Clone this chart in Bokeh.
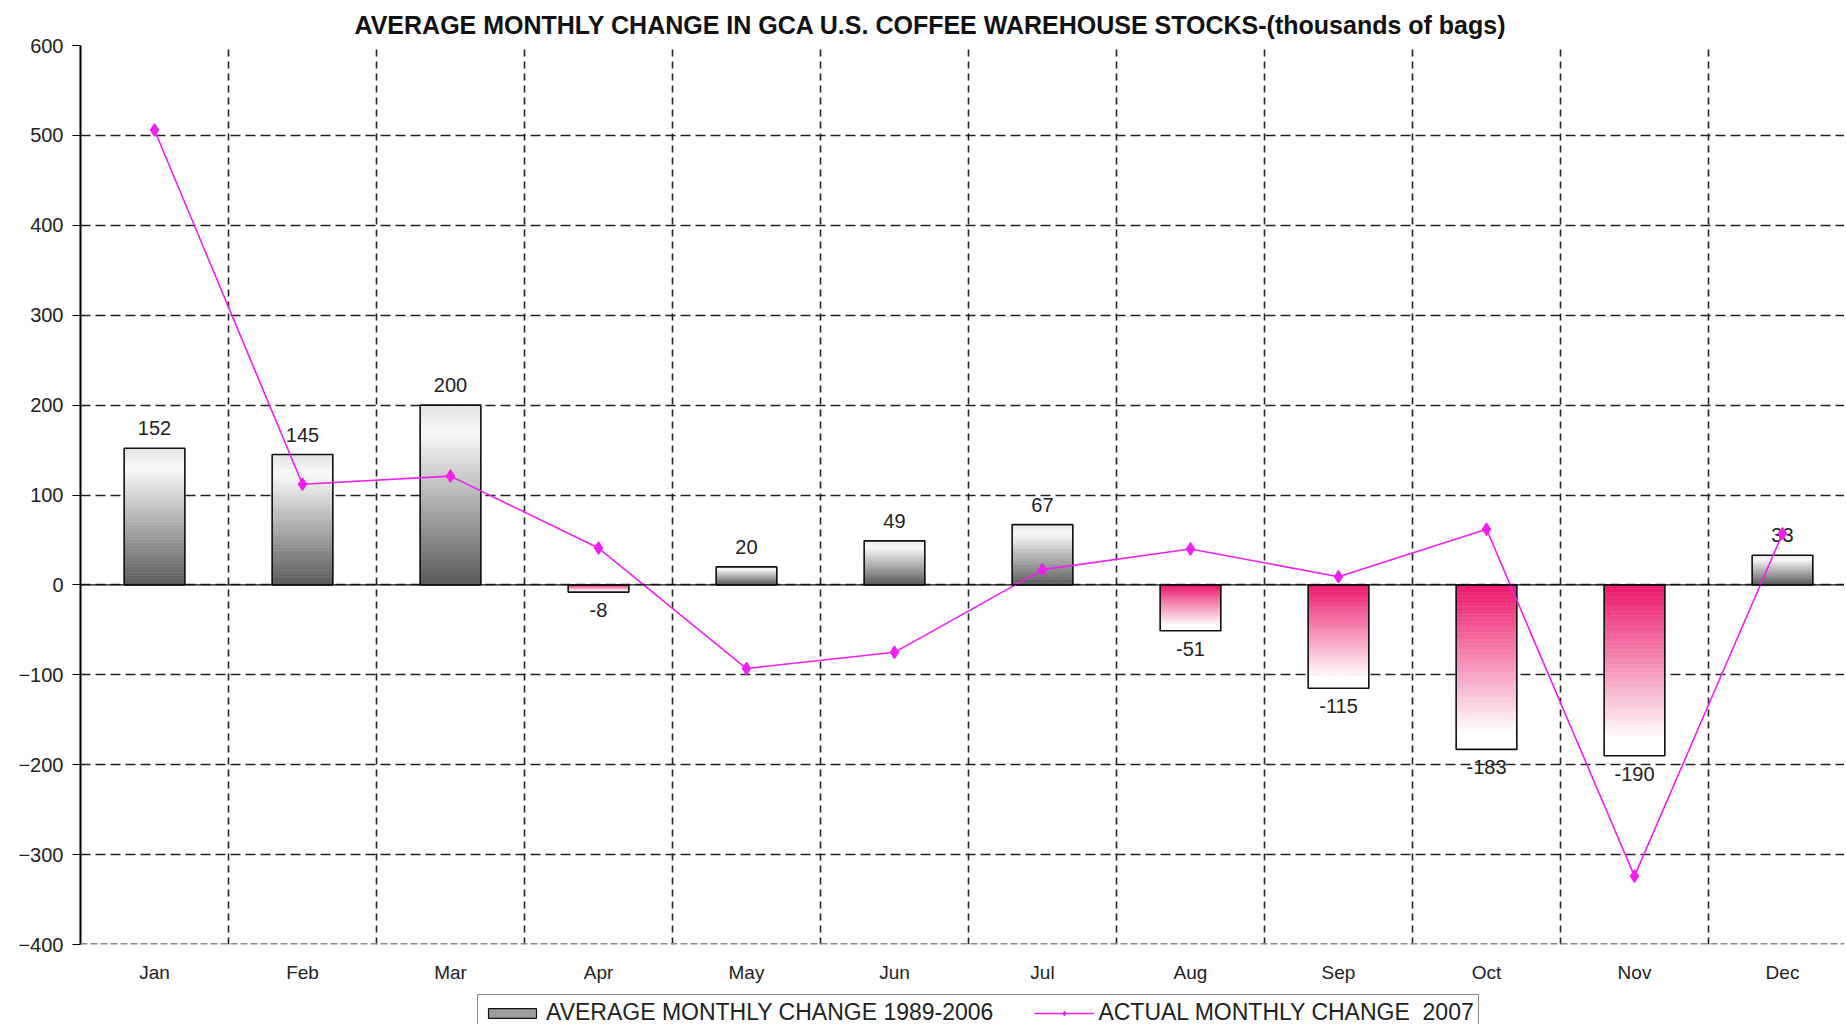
from bokeh.plotting import figure
from bokeh.layouts import column
from bokeh.models import (ColumnDataSource, FixedTicker, Span, Legend, LegendItem, Range1d)
from bokeh.core.properties import value
from bokeh.embed import file_html
from bokeh.resources import INLINE

# ---- data ----
months = ["Jan", "Feb", "Mar", "Apr", "May", "Jun", "Jul", "Aug", "Sep", "Oct", "Nov", "Dec"]
avg_change = [152, 145, 200, -8, 20, 49, 67, -51, -115, -183, -190, 33]
actual_2007 = [506, 112, 121, 41, -93, -75, 17, 40, 9, 62, -324, 57]
y_ticks = [-400, -300, -200, -100, 0, 100, 200, 300, 400, 500, 600]
title_text = "AVERAGE MONTHLY CHANGE IN GCA U.S. COFFEE WAREHOUSE STOCKS-(thousands of bags)"
legend_labels = ["AVERAGE MONTHLY CHANGE 1989-2006", "ACTUAL MONTHLY CHANGE  2007"]

FONT = "Liberation Sans"
xs = [i + 0.5 for i in range(len(months))]
BAR_W = 0.41
LINE_COLOR = "#F020F0"
W = 1844

p = figure(width=W, height=990, output_backend="svg", toolbar_location=None,
           x_range=Range1d(0, 11.919), y_range=Range1d(y_ticks[0], y_ticks[-1]),
           min_border_left=80, min_border_right=0, min_border_top=45, min_border_bottom=46)
p.outline_line_color = None
p.background_fill_color = "white"
p.border_fill_color = "white"

# title
p.title.text = title_text
p.title.text_font = FONT
p.title.text_font_size = "25px"
p.title.text_font_style = "bold"
p.title.text_color = "#111111"
p.title.align = "left"
p.title.offset = 274
p.title.standoff = 14

# x axis (month labels only)
xa = p.xaxis[0]
xa.ticker = FixedTicker(ticks=xs)
xa.major_label_overrides = {x: m for x, m in zip(xs, months)}
xa.axis_line_color = None
xa.major_tick_line_color = None
xa.minor_tick_line_color = None
xa.major_label_standoff = 11
xa.major_label_text_font = FONT
xa.major_label_text_font_size = "19px"
xa.major_label_text_color = "#222222"

# y axis
ya = p.yaxis[0]
ya.ticker = FixedTicker(ticks=y_ticks)
ya.axis_line_color = "black"
ya.axis_line_width = 2
ya.major_tick_out = 8
ya.major_tick_in = 0
ya.major_tick_line_color = "black"
ya.minor_tick_line_color = None
ya.major_label_standoff = 9
ya.major_label_text_font = FONT
ya.major_label_text_font_size = "20px"
ya.major_label_text_color = "#222222"

# grids
p.ygrid.ticker = FixedTicker(ticks=y_ticks[1:])
p.ygrid.grid_line_color = "#222222"
p.ygrid.grid_line_dash = "10 5"
p.ygrid.grid_line_width = 1.3
p.xgrid.ticker = FixedTicker(ticks=list(range(1, len(months))))
p.xgrid.grid_line_color = "#222222"
p.xgrid.grid_line_dash = "7 5"
p.xgrid.grid_line_width = 1.6

# gradient bars built from thin strips
GRAY_STOPS = [(0.0, (226, 226, 226)), (0.15, (250, 250, 250)), (1.0, (90, 90, 90))]
PINK_STOPS = [(0.0, (236, 22, 106)), (0.9, (255, 255, 255)), (1.0, (255, 255, 255))]


def lerp(stops, t):
    for (t0, c0), (t1, c1) in zip(stops, stops[1:]):
        if t <= t1:
            f = (t - t0) / (t1 - t0) if t1 > t0 else 0.0
            return "#%02x%02x%02x" % tuple(int(round(a + (b - a) * f)) for a, b in zip(c0, c1))
    return "#%02x%02x%02x" % stops[-1][1]


N = 45
sl, sr, st, sb, sc = [], [], [], [], []
for x, v in zip(xs, avg_change):
    hi, lo = max(v, 0), min(v, 0)
    stops = GRAY_STOPS if v >= 0 else PINK_STOPS
    for k in range(N):
        t0, t1 = k / N, (k + 1) / N
        sl.append(x - BAR_W / 2)
        sr.append(x + BAR_W / 2)
        st.append(hi - (hi - lo) * t0)
        sb.append(hi - (hi - lo) * t1)
        sc.append(lerp(stops, (t0 + t1) / 2))
strip_src = ColumnDataSource(dict(left=sl, right=sr, top=st, bottom=sb, color=sc))
p.quad(left="left", right="right", top="top", bottom="bottom", source=strip_src,
       fill_color="color", line_color="color", line_width=0.6)

bar_src = ColumnDataSource(dict(x=xs, top=avg_change))
p.vbar(x="x", top="top", bottom=0, width=BAR_W, source=bar_src,
       fill_color=None, line_color="#111111", line_width=1.6)

# zero line and bottom line
p.add_layout(Span(location=0, dimension="width", line_color="#111111", line_width=1.3))
p.add_layout(Span(location=y_ticks[0], dimension="width", line_color="#8a8a8a",
                  line_width=3, line_dash="7 3"))

# data labels
lab_src = ColumnDataSource(dict(x=xs, y=avg_change, t=[str(v) for v in avg_change],
                                off=[-20 if v >= 0 else 18 for v in avg_change]))
p.text(x="x", y="y", text="t", y_offset="off", source=lab_src,
       text_align="center", text_baseline="middle", text_font=value(FONT),
       text_font_size="20px", text_color="#222222")

# actual 2007 line
line_src = ColumnDataSource(dict(x=xs, y=actual_2007))
p.line(x="x", y="y", source=line_src, line_color=LINE_COLOR, line_width=1.6)
p.scatter(x="x", y="y", source=line_src, marker="diamond", size=13,
          fill_color=LINE_COLOR, line_color=LINE_COLOR)

# legend strip below the chart (its renderers hold the same data, but the
# strip's y range lies far above every value, so only the legend shows)
lg = figure(width=W, height=34, output_backend="svg", toolbar_location=None,
            x_range=Range1d(0, 12), y_range=Range1d(5000, 5001),
            x_axis_type=None, y_axis_type=None, min_border=0)
lg.outline_line_color = None
lg.grid.visible = False
proxy_bar = lg.vbar(x=xs, top=avg_change, width=BAR_W, fill_color="#9c9c9c",
                    line_color="#111111", line_width=1.2)
proxy_line = lg.line(x=xs, y=actual_2007, line_color=LINE_COLOR, line_width=1.6)
proxy_pt = lg.scatter(x=xs, y=actual_2007, marker="diamond", size=13,
                      fill_color=LINE_COLOR, line_color=LINE_COLOR)
legend = Legend(items=[LegendItem(label=legend_labels[0], renderers=[proxy_bar]),
                       LegendItem(label=legend_labels[1], renderers=[proxy_line, proxy_pt])],
                orientation="horizontal", location=(397, -7),
                border_line_color="#111111", border_line_width=1.2,
                background_fill_color="white", background_fill_alpha=1,
                padding=4, spacing=41, margin=0,
                glyph_width=60, glyph_height=12, label_standoff=4, label_height=20,
                label_text_font=FONT, label_text_font_size="23px", label_text_color="#222222")
lg.add_layout(legend)

layout = column(p, lg, spacing=0)
open("out.html", "w").write(file_html(layout, INLINE))
